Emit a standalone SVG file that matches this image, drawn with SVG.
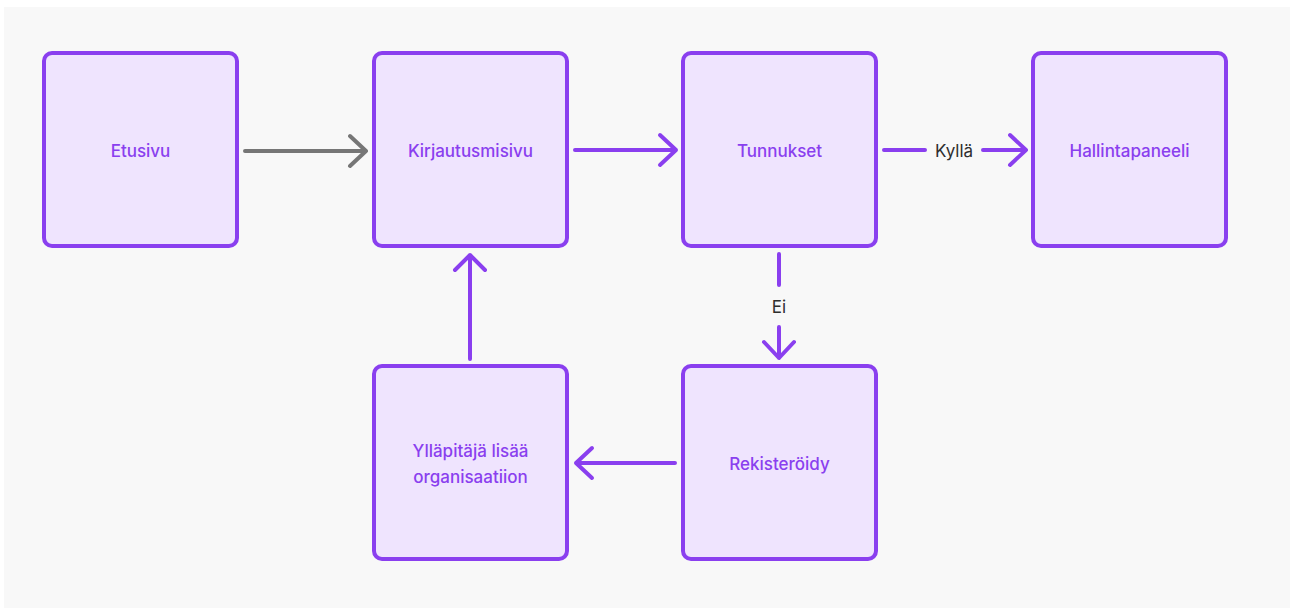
<svg xmlns="http://www.w3.org/2000/svg" width="1290" height="608" viewBox="0 0 1290 608">
<style>
.node rect{fill:#EFE4FE;stroke:#8A3FEF;stroke-width:4}
.node text{font-family:Inter,"Liberation Sans",sans-serif;font-size:17px;font-weight:500;fill:#8A3FEF;text-anchor:middle;dominant-baseline:central}
.edge{fill:none;stroke:#8A3FEF;stroke-width:4;stroke-linecap:round;stroke-linejoin:round}
.gray{stroke:#767676}
.lbl{font-family:Inter,"Liberation Sans",sans-serif;font-size:17px;fill:#2E2E2E;text-anchor:middle;dominant-baseline:central}
</style>
<rect x="0" y="0" width="1290" height="608" fill="#FFFFFF"/>
<rect x="4" y="7" width="1286" height="601" fill="#F8F8F8"/>
<g id="n-etusivu" class="node"><rect x="44" y="53" width="193" height="193" rx="8"/><text x="140.5" y="151">Etusivu</text></g>
<g id="n-kirjautus" class="node"><rect x="374" y="53" width="193" height="193" rx="8"/><text x="470.5" y="151">Kirjautusmisivu</text></g>
<g id="n-tunnukset" class="node"><rect x="683" y="53" width="193" height="193" rx="8"/><text x="779.5" y="151">Tunnukset</text></g>
<g id="n-hallinta" class="node"><rect x="1033" y="53" width="193" height="193" rx="8"/><text x="1129.5" y="151">Hallintapaneeli</text></g>
<g id="n-yllapitaja" class="node"><rect x="374" y="366" width="193" height="193" rx="8"/><text x="470.5" y="451">Ylläpitäjä lisää</text><text x="470.5" y="477">organisaatiion</text></g>
<g id="n-rekisteroidy" class="node"><rect x="683" y="366" width="193" height="193" rx="8"/><text x="779.5" y="464">Rekisteröidy</text></g>
<g id="connectors">
<path class="edge gray" d="M245 151H366M350 136L366 151L350 166"/>
<path class="edge" d="M575 150H676M660 135L676 150L660 165"/>
<path class="edge" d="M884 150H925M983 150H1026M1010 135L1026 150L1010 165"/>
<text class="lbl" x="954" y="151">Kyllä</text>
<path class="edge" d="M779 254V285M779 327V358M764 342L779 358L794 342"/>
<text class="lbl" x="779" y="307">Ei</text>
<path class="edge" d="M675 463H576M592 448L576 463L592 478"/>
<path class="edge" d="M470 359V255M455 270L470 255L485 270"/>
</g>
</svg>
